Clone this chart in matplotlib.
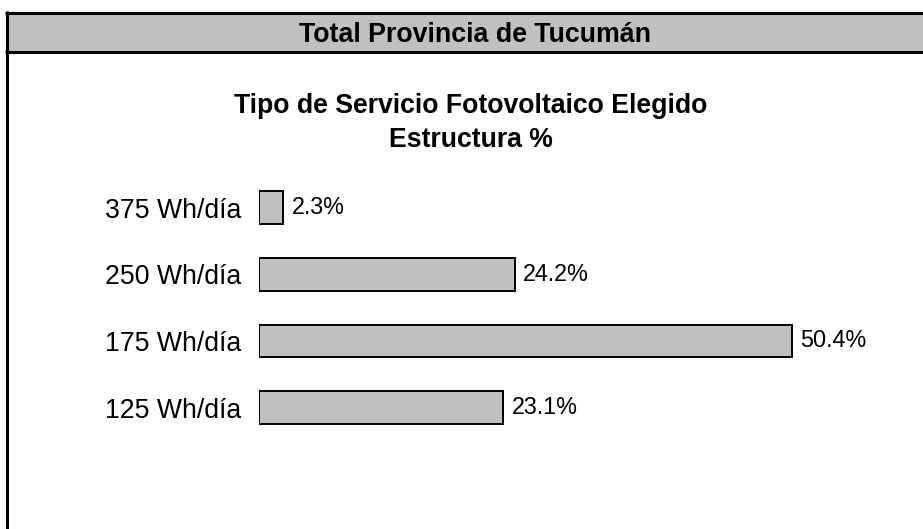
import matplotlib.pyplot as plt
from matplotlib.patches import Rectangle
from matplotlib.lines import Line2D

plt.rcParams['font.family'] = ['Liberation Sans', 'DejaVu Sans']

# data
categorias = ["125 Wh/día", "175 Wh/día", "250 Wh/día", "375 Wh/día"]
porcentajes = [23.1, 50.4, 24.2, 2.3]
encabezado = "Total Provincia de Tucumán"
titulo_1 = "Tipo de Servicio Fotovoltaico Elegido"
titulo_2 = "Estructura %"

W, H = 923, 529
fig = plt.figure(figsize=(W / 100, H / 100), dpi=100)

def fx(px):
    return px / W

def fy(py):
    return 1 - py / H

# header band and frame
fig.patches.append(Rectangle((fx(6.5), fy(51.5)), 1 - fx(6.5), fy(12.5) - fy(51.5),
                             transform=fig.transFigure, facecolor="#c0c0c0",
                             edgecolor="none", zorder=0))
for yy in (12.5, 51.5):
    fig.lines.append(Line2D([fx(5), 1], [fy(yy), fy(yy)], transform=fig.transFigure,
                            color="black", lw=2.2, solid_capstyle="butt"))
fig.lines.append(Line2D([fx(6.5), fx(6.5)], [fy(11), 0], transform=fig.transFigure,
                        color="black", lw=2.2, solid_capstyle="butt"))
fig.text(fx(475), fy(42), encabezado, ha="center", va="baseline",
         fontsize=19.3, fontweight="bold")

fig.text(fx(471), fy(113), titulo_1, ha="center", va="baseline",
         fontsize=19.2, fontweight="bold")
fig.text(fx(471), fy(147), titulo_2, ha="center", va="baseline",
         fontsize=19.2, fontweight="bold")

# bars
ax = fig.add_axes([fx(259), fy(441), fx(893) - fx(259), fy(174.2) - fy(441)])
y = range(len(categorias))
ax.barh(y, porcentajes, height=0.49, color="#c0c0c0", edgecolor="black", linewidth=1.4)
for yi, v in zip(y, porcentajes):
    ax.annotate(f"{v:.1f}%", (v, yi), xytext=(6, 0), textcoords="offset points",
                va="center", ha="left", fontsize=16.8)
ax.set_xlim(0, 60)
ax.set_ylim(-0.5, 3.5)
ax.set_yticks(list(y))
ax.set_yticklabels(categorias, fontsize=19.2)
ax.tick_params(axis="y", length=0, pad=13)
ax.set_xticks([])
for s in ax.spines.values():
    s.set_visible(False)
ax.patch.set_visible(False)

fig.savefig("out.png", dpi=100)
